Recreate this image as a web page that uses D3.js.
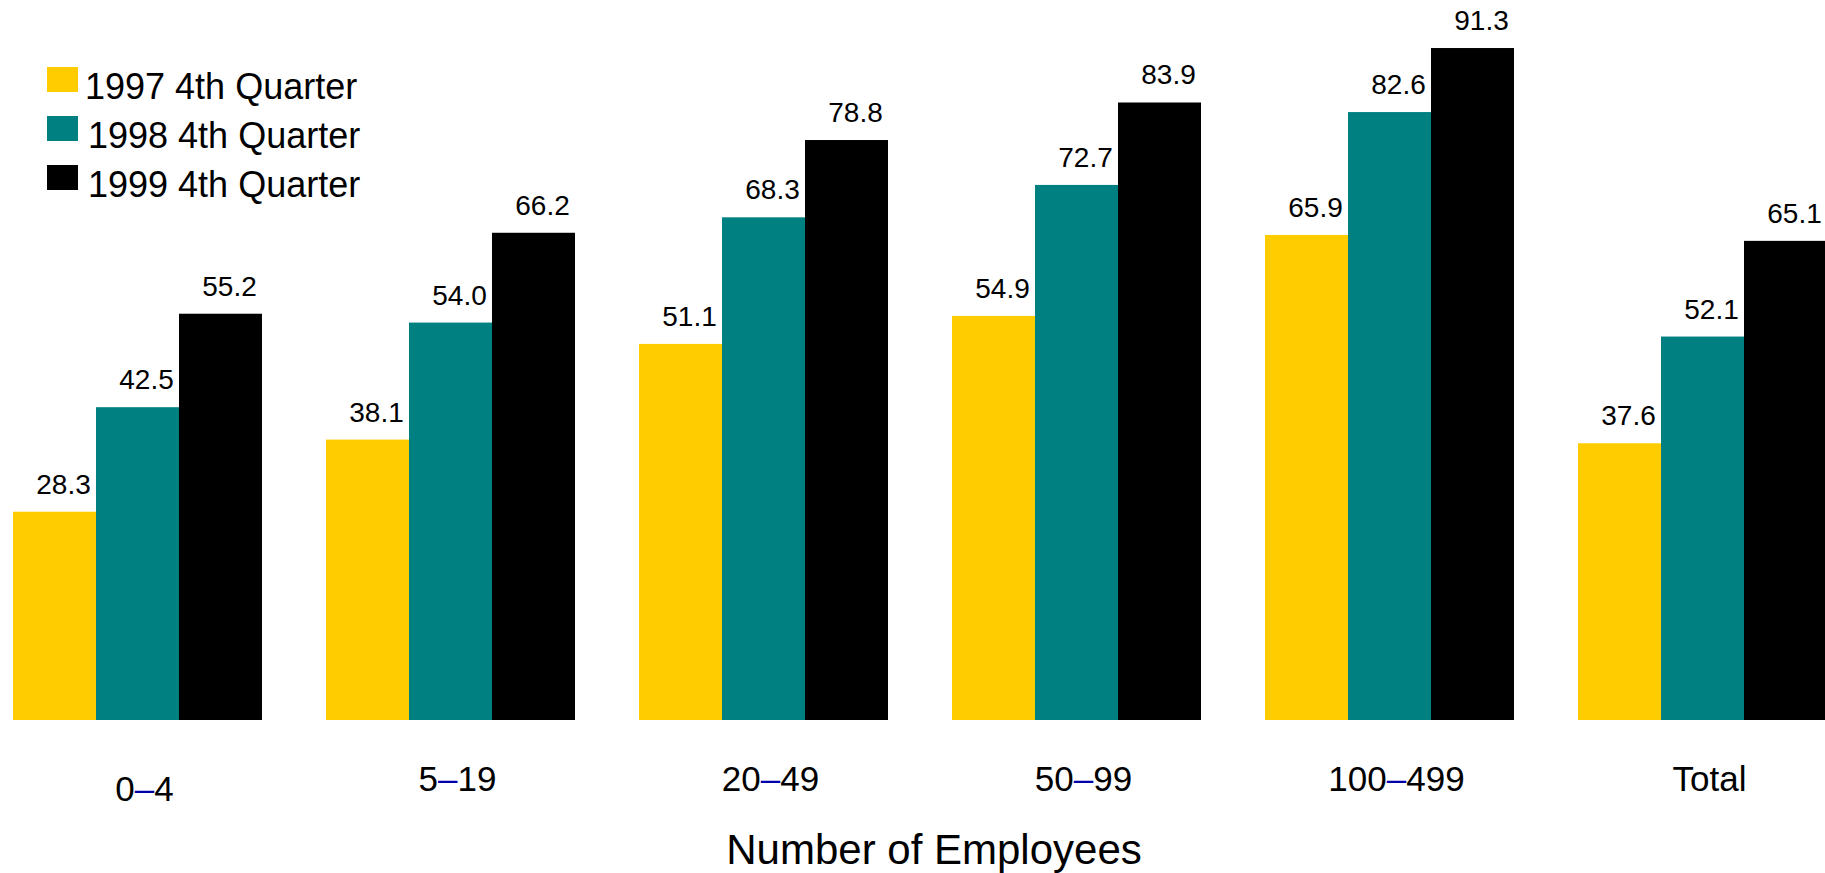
<!DOCTYPE html>
<html>
<head>
<meta charset="utf-8">
<script src="https://cdn.jsdelivr.net/npm/d3@7"></script>
<style>
  body { margin: 0; background: #fff; }
  svg { display: block; font-family: "Liberation Sans", Arial, sans-serif; }
</style>
</head>
<body>
<svg width="1825" height="873"></svg>
<script>
const categories = ["0–4", "5–19", "20–49", "50–99", "100–499", "Total"];
const series = ["1997 4th Quarter", "1998 4th Quarter", "1999 4th Quarter"];
const q1997 = [28.3, 38.1, 51.1, 54.9, 65.9, 37.6];
const q1998 = [42.5, 54.0, 68.3, 72.7, 82.6, 52.1];
const q1999 = [55.2, 66.2, 78.8, 83.9, 91.3, 65.1];
const colors = ["#ffcc00", "#008080", "#000000"];

const svg = d3.select("svg");
const values = [q1997, q1998, q1999];

// rows for the grouped bars
const rows = categories.map((c, i) => ({
  cat: c,
  vals: series.map((s, j) => ({ key: s, value: values[j][i], cat: c }))
}));

const x0 = d3.scaleBand().domain(categories).range([13, 1827]).paddingInner(0.2045).paddingOuter(0);
const x1 = d3.scaleBand().domain(series).range([0, x0.bandwidth()]);
const y = d3.scaleLinear().domain([0, 100]).range([720, -16]);
const color = d3.scaleOrdinal().domain(series).range(colors);

const groups = svg.append("g")
  .selectAll("g")
  .data(rows)
  .join("g")
    .attr("transform", d => `translate(${x0(d.cat)},0)`);

groups.selectAll("rect")
  .data(d => d.vals)
  .join("rect")
    .attr("x", d => x1(d.key))
    .attr("y", d => y(d.value))
    .attr("width", x1.bandwidth())
    .attr("height", d => y(0) - y(d.value))
    .attr("fill", d => color(d.key));

groups.selectAll("text")
  .data(d => d.vals)
  .join("text")
    .attr("x", d => x1(d.key) + x1.bandwidth() / 2 + 9)
    .attr("y", d => y(d.value) - 18)
    .attr("text-anchor", "middle")
    .style("font-size", "28px")
    .text(d => d.value.toFixed(1));

// category labels, the dash drawn in dark blue
const catLabels = svg.append("g")
  .selectAll("text")
  .data(categories)
  .join("text")
    .attr("x", d => x0(d) + x0.bandwidth() / 2 + 7)
    .attr("y", (d, i) => i === 0 ? 801 : 791)
    .attr("text-anchor", "middle")
    .style("font-size", "35px");

catLabels.each(function(d) {
  const parts = d.split("–");
  const t = d3.select(this);
  t.append("tspan").text(parts[0]);
  if (parts.length > 1) {
    t.append("tspan").attr("fill", "#0000aa").text("–");
    t.append("tspan").text(parts[1]);
  }
});

svg.append("text")
  .attr("x", 934)
  .attr("y", 864)
  .attr("text-anchor", "middle")
  .style("font-size", "42px")
  .text("Number of Employees");

// legend
const legend = svg.append("g");
series.forEach((s, i) => {
  const row = legend.append("g").attr("transform", `translate(47, ${67 + i * 49})`);
  row.append("rect")
    .attr("width", 31)
    .attr("height", 25)
    .attr("fill", color(s));
  row.append("text")
    .attr("x", i === 0 ? 38 : 41)
    .attr("y", 32)
    .style("font-size", "36px")
    .text(s);
});
</script>
</body>
</html>
